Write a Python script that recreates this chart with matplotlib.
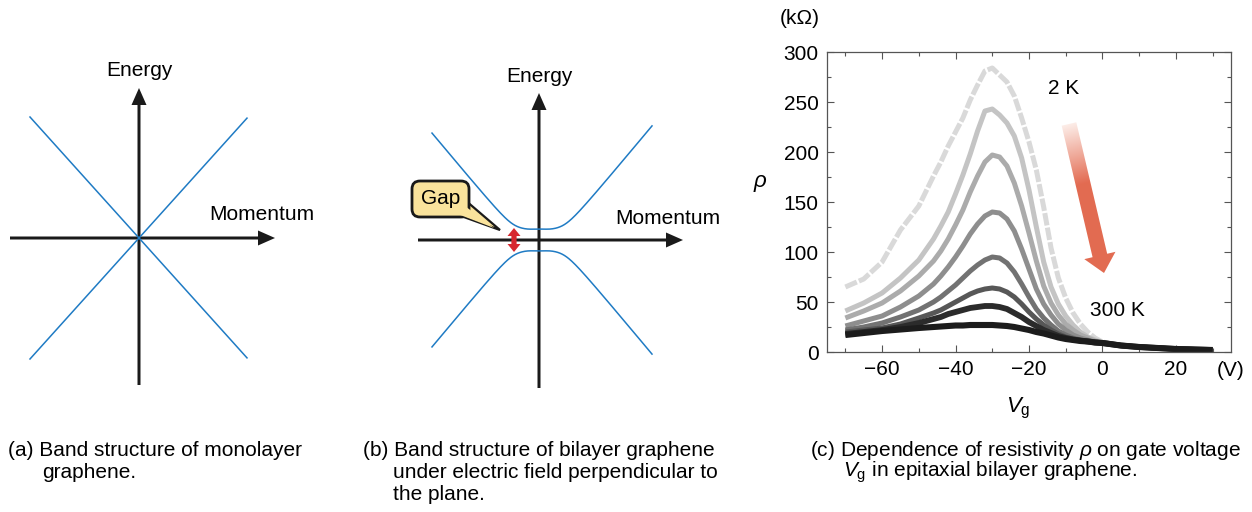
import numpy as np
import matplotlib
matplotlib.use("Agg")
import matplotlib.pyplot as plt
import matplotlib.patches as patches

plt.rcParams['font.family'] = ['Liberation Sans', 'DejaVu Sans']
plt.rcParams['mathtext.fontset'] = 'custom'
plt.rcParams['mathtext.rm'] = 'Liberation Sans'
plt.rcParams['mathtext.it'] = 'Liberation Sans:italic'

# ---- data for panel (c): resistivity vs gate voltage, 2 K (top) ... 300 K (bottom)
vg = [-70, -65, -60, -55, -50, -46, -44, -42, -40, -38, -36, -34, -32, -30, -28, -26,
      -24, -22, -20, -18, -16, -14, -12, -10, -8, -6, -4, -2, 0, 5, 10, 15, 20, 25, 30]
tail = [6.5, 5, 4, 3, 2.5, 2]
rho_2k = [65, 73, 90, 122, 146, 176, 190, 206, 220, 234, 252, 267, 281, 284, 277, 270,
          256, 234, 210, 182, 145, 104, 74, 54, 39, 28, 20, 14, 10] + tail
rho_t2 = [41, 49, 59, 74, 92, 113, 126, 140, 158, 177, 198, 221, 241, 243, 237, 229,
          216, 194, 162, 125, 90, 65, 48, 36, 27, 20, 15, 12, 9.5] + tail
rho_t3 = [34, 41, 49, 61, 76, 91, 101, 113, 127, 142, 160, 176, 190, 197, 195, 186,
          169, 146, 119, 91, 66, 49, 37, 28, 22, 17, 14, 11, 9] + tail
rho_t4 = [26, 31, 36, 45, 56, 68, 76, 85, 95, 106, 118, 128, 136, 140, 139, 133,
          121, 103, 83, 63, 48, 37, 28, 22, 17, 14, 12, 10, 9] + tail
rho_t5 = [22, 25, 29, 35, 42, 50, 55, 61, 67, 74, 81, 87, 92, 95, 94, 89,
          80, 68, 55, 43, 34, 27, 21, 17, 14, 12, 11, 10, 9] + tail
rho_t6 = [20, 22, 24, 28, 34, 39, 42, 46, 50, 54, 58, 61, 63, 64, 63, 60,
          55, 48, 40, 33, 27, 22, 18, 15, 13, 11.5, 10.5, 9.5, 9] + tail
rho_t7 = [18, 20, 22, 25, 29, 33, 35, 38, 40, 42, 44, 45, 46, 46, 45, 43,
          39, 35, 30, 26, 22, 19, 16, 14, 12.5, 11.5, 10.5, 9.5, 9] + tail
rho_300k = [17, 19, 21, 22.5, 24, 25, 25.5, 26, 26.5, 26.5, 27, 27, 27, 27, 26.5, 26,
            25, 23.5, 22, 20, 18.5, 16.5, 14.5, 13, 12, 11, 10.5, 9.5, 9] + tail
curves = [rho_2k, rho_t2, rho_t3, rho_t4, rho_t5, rho_t6, rho_t7, rho_300k]
grays = ['#d9d9d9', '#c4c4c4', '#ababab', '#8e8e8e', '#727272', '#575757', '#2b2b2b', '#1c1c1c']
widths = [3.6, 3.6, 3.6, 3.6, 3.6, 3.6, 4.2, 4.4]

xticks_c = [-60, -40, -20, 0, 20]
yticks_c = [0, 50, 100, 150, 200, 250, 300]

# ---- schematic band parameters (panel units: 100 px)
v_mono = 1.11          # slope of Dirac cone
half_gap = 0.08        # band edge above/below zero
v_bi, k_flat, soft = 1.2, 0.25, 0.12

W, H = 1252, 512
fig = plt.figure(figsize=(W / 100, H / 100), dpi=100)


def px_axes(x0, y0, x1, y1):
    return fig.add_axes([x0 / W, 1 - y1 / H, (x1 - x0) / W, (y1 - y0) / H])


def draw_axes_arrows(ax, left, right, down, up):
    kw = dict(width=0.03, head_width=0.15, head_length=0.17,
              length_includes_head=True, color='#1a1a1a', lw=0)
    ax.add_patch(patches.FancyArrow(left, 0, right - left, 0, **kw))
    ax.add_patch(patches.FancyArrow(0, down, 0, up - down, **kw))


blue = '#1f7bc4'
lab = dict(ha='center', va='center', fontsize=15)

# ---- panel (a)
ax_a = px_axes(0, 50, 300, 400)
ax_a.set_xlim(-1.39, 1.61)
ax_a.set_ylim(-1.62, 1.88)
ax_a.axis('off')
k_a = np.linspace(-1.09, 1.08, 50)
ax_a.plot(k_a, v_mono * k_a, color=blue, lw=1.1)
ax_a.plot(k_a, -v_mono * k_a, color=blue, lw=1.1)
draw_axes_arrows(ax_a, -1.29, 1.36, -1.47, 1.50)
ax_a.text(0, 1.68, 'Energy', **lab)
ax_a.text(1.23, 0.23, 'Momentum', **lab)

# ---- panel (b)
ax_b = px_axes(400, 50, 700, 400)
ax_b.set_xlim(-1.39, 1.61)
ax_b.set_ylim(-1.60, 1.90)
ax_b.axis('off')
k_b = np.linspace(-1.07, 1.13, 300)
q = np.abs(k_b) - k_flat
band = half_gap + v_bi * (np.sqrt(q ** 2 + soft ** 2) + q) / 2 + 0.012 * np.exp(-(k_b / 0.09) ** 2)
ax_b.plot(k_b, band, color=blue, lw=1.1)
ax_b.plot(k_b, -band, color=blue, lw=1.1)
draw_axes_arrows(ax_b, -1.21, 1.44, -1.48, 1.47)
ax_b.text(0, 1.63, 'Energy', **lab)
ax_b.text(1.29, 0.22, 'Momentum', **lab)

# gap callout
yellow = '#fae39c'
ptr = [(-0.74, 0.40), (-0.39, 0.10), (-0.78, 0.24)]
ax_b.add_patch(patches.Polygon(ptr, closed=True, facecolor=yellow, edgecolor='#1a1a1a',
                               lw=1.6, zorder=3, clip_on=False))
ax_b.add_patch(patches.FancyBboxPatch((-1.25, 0.25), 0.53, 0.32,
                                      boxstyle='round,pad=0.02,rounding_size=0.08',
                                      facecolor=yellow, edgecolor='#1a1a1a', lw=2.0,
                                      zorder=4, clip_on=False))
ptr_in = [(-0.80, 0.385), (-0.45, 0.12), (-0.80, 0.255)]
ax_b.add_patch(patches.Polygon(ptr_in, closed=True, facecolor=yellow, edgecolor='none',
                               zorder=5, clip_on=False))
ax_b.text(-0.985, 0.41, 'Gap', zorder=6, **lab)

# red double arrow across the gap (head 13 px wide, 8 px long, shaft 5 px)
xa, top, bot = -0.25, 0.12, -0.12
hw, hl, sw = 0.065, 0.08, 0.026
dbl = [(xa, top), (xa + hw, top - hl), (xa + sw, top - hl), (xa + sw, bot + hl),
       (xa + hw, bot + hl), (xa, bot), (xa - hw, bot + hl), (xa - sw, bot + hl),
       (xa - sw, top - hl), (xa - hw, top - hl)]
ax_b.add_patch(patches.Polygon(dbl, closed=True, facecolor='#d7282f', edgecolor='none', zorder=6))

# ---- panel (c)
ax_c = px_axes(827, 52, 1231, 352)
for rho, col, lw in zip(curves, grays, widths):
    ls = (0, (2.5, 0.45)) if col == grays[0] else '-'
    ax_c.plot(vg, rho, color=col, lw=lw, ls=ls, solid_capstyle='butt',
              solid_joinstyle='round')
ax_c.set_xlim(-75, 35)
ax_c.set_ylim(0, 300)
ax_c.set_xticks(xticks_c)
ax_c.set_xticks([-70, -50, -30, -10, 10, 30], minor=True)
ax_c.set_yticks(yticks_c)
ax_c.set_yticks([25, 75, 125, 175, 225, 275], minor=True)
ax_c.tick_params(which='both', direction='in', top=True, right=True, labelsize=15,
                 color='#555555', width=0.8)
ax_c.tick_params(which='major', length=5, pad=6)
ax_c.tick_params(which='minor', length=3)
for s in ax_c.spines.values():
    s.set_color('#555555')
    s.set_linewidth(0.9)
ax_c.text(-10.6, 264, '2 K', **lab)
ax_c.text(4.1, 41, '300 K', **lab)

fig.text(800 / W, 1 - 18 / H, '(k\u03a9)', **lab)
fig.text(760 / W, 1 - 184 / H, r'$\rho$', ha='center', va='center', fontsize=16)
fig.text(1018 / W, 1 - 408 / H, r'$V_\mathrm{g}$', ha='center', va='center', fontsize=16)
fig.text(1217 / W, 1 - 371 / H, '(V)', ha='left', va='center', fontsize=15)

# ---- gradient arrow (overlay in pixel coordinates)
ov = fig.add_axes([0, 0, 1, 1])
ov.set_xlim(0, W)
ov.set_ylim(H, 0)
ov.axis('off')
ov.patch.set_visible(False)
tail_pt = np.array([1069.0, 124.0])
tip_pt = np.array([1104.0, 273.0])
d = tip_pt - tail_pt
L = np.hypot(*d)
u = d / L
n = np.array([-u[1], u[0]])
shaft_w, head_w, head_l = 15.0, 32.0, 18.0
base = tip_pt - u * head_l
poly = [tail_pt + n * shaft_w / 2, base + n * shaft_w / 2, base + n * head_w / 2, tip_pt,
        base - n * head_w / 2, base - n * shaft_w / 2, tail_pt - n * shaft_w / 2]
arrow_patch = patches.Polygon(poly, closed=True, facecolor='none', edgecolor='none')
ov.add_patch(arrow_patch)
xs = np.linspace(1040, 1130, 180)
ys = np.linspace(110, 285, 350)
XX, YY = np.meshgrid(xs, ys)
t = ((XX - tail_pt[0]) * u[0] + (YY - tail_pt[1]) * u[1]) / L
t = np.clip(t / 0.4, 0, 1)
c0 = np.array([0.99, 0.93, 0.91])
c1 = np.array([0.89, 0.42, 0.32])
img = c0[None, None, :] * (1 - t[..., None]) + c1[None, None, :] * t[..., None]
im = ov.imshow(img, extent=(xs[0], xs[-1], ys[-1], ys[0]), origin='upper',
               interpolation='bilinear', aspect='auto', zorder=5)
im.set_clip_path(arrow_patch)

# ---- captions
cap = dict(fontsize=15, ha='left', va='center')
fig.text(8 / W, 1 - 450 / H, '(a) Band structure of monolayer', **cap)
fig.text(42 / W, 1 - 472 / H, 'graphene.', **cap)
fig.text(363 / W, 1 - 450 / H, '(b) Band structure of bilayer graphene', **cap)
fig.text(393 / W, 1 - 472 / H, 'under electric field perpendicular to', **cap)
fig.text(393 / W, 1 - 494 / H, 'the plane.', **cap)
fig.text(810 / W, 1 - 450 / H, r'(c) Dependence of resistivity $\rho$ on gate voltage', **cap)
fig.text(843 / W, 1 - 472 / H, r'$V_\mathrm{g}$ in epitaxial bilayer graphene.', **cap)

fig.savefig('out.png', dpi=100)
